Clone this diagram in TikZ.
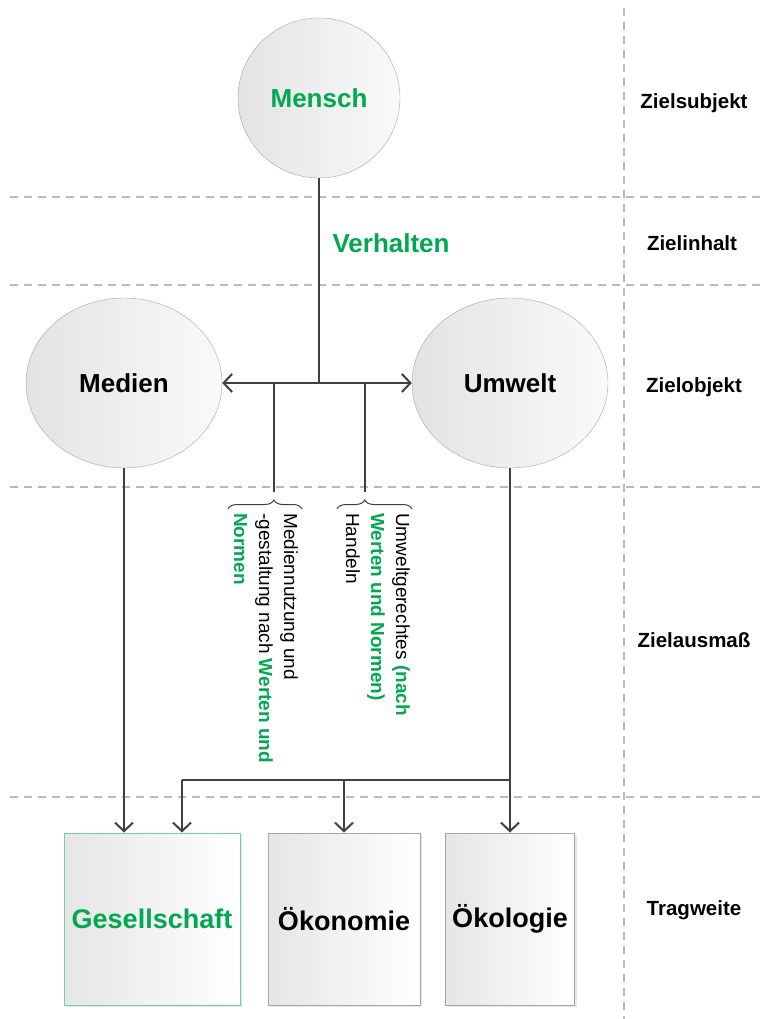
\documentclass[tikz,border=0pt]{standalone}
\usepackage{fontspec}
\setmainfont{Liberation Sans}
\usetikzlibrary{shapes.geometric,arrows.meta,decorations.pathreplacing,shadows}
\definecolor{zielgruen}{RGB}{0,168,80}
\definecolor{linie}{RGB}{64,64,64}

\begin{document}
\begin{tikzpicture}[x=1pt,y=-1pt,
	trenn/.style={gray!55,line width=1.2pt,dash pattern=on 8pt off 6pt},
	kreis/.style={ellipse,draw=gray!70,left color=gray!22,right color=gray!4,inner sep=0pt,font=\fontsize{26}{30}\selectfont\bfseries},
	kasten/.style={rectangle,draw=gray!70,line width=1pt,left color=gray!20,right color=white,minimum height=172pt,inner sep=0pt,drop shadow={opacity=0.2,shadow xshift=2pt,shadow yshift=-2pt},font=\fontsize{27}{30}\selectfont\bfseries},
	ebene/.style={font=\fontsize{20.5}{24}\selectfont\bfseries},
	pfeil/.style={linie,line width=2pt,-{Straight Barb[length=8.5pt,width=18pt]}},
	verb/.style={linie,line width=2pt},
	klammer/.style={linie,line width=1pt,decorate},
	dreh/.style={rotate=-90,anchor=north west,align=left,inner sep=0pt,font=\fontsize{19}{25}\selectfont}
]
	\useasboundingbox (0,0) rectangle (761,1019);
	
	% Ebenen
	\draw[trenn] (624,8) -- (624,1019);
	\foreach \y in {197,285,487,797}{
		\draw[trenn] (10,\y) -- (761,\y);
	}
	\node[ebene] (zsub) at (694,103) {Zielsubjekt};
	\node[ebene] (zinh) at (692,243) {Zielinhalt};
	\node[ebene] (zobj) at (694,387) {Zielobjekt};
	\node[ebene] (zaus) at (694,640) {Zielausmaß};
	\node[ebene] (trag) at (694,910) {Tragweite};
	
	% Kreise
	\node[kreis,minimum width=162pt,minimum height=160pt,text=zielgruen] (mensch) at (319,98) {Mensch};
	\node[kreis,minimum width=196pt,minimum height=170pt] (medien) at (124,383) {Medien};
	\node[kreis,minimum width=196pt,minimum height=170pt] (umwelt) at (510,383) {Umwelt};
	\node[anchor=west,text=zielgruen,font=\fontsize{26}{30}\selectfont\bfseries] (verhalten) at (329,243) {Verhalten};
	
	% Kaesten
	\node[kasten,draw=zielgruen!55,minimum width=176pt,text=zielgruen] (ges) at (152,919) {Gesellschaft};
	\node[kasten,minimum width=152pt] (oekon) at (344,919) {Ökonomie};
	\node[kasten,minimum width=129pt] (oekol) at (510,919) {Ökologie};
	
	% Verbindungen
	\coordinate (mitte) at (319,383);
	\coordinate (astA) at (274,383);
	\coordinate (astB) at (365,383);
	\coordinate (spitzeA) at (274,492);
	\coordinate (spitzeB) at (365,492);
	\coordinate (teil) at (510,780);
	\coordinate (gesein) at (182,780);
	\coordinate (oekonein) at (344,780);
	\draw[verb] (mensch) -- (mitte);
	\draw[pfeil] (mitte) -- (medien);
	\draw[pfeil] (mitte) -- (umwelt);
	\draw[verb] (astA) -- (spitzeA);
	\draw[verb] (astB) -- (spitzeB);
	\draw[pfeil] (medien) -- (medien |- ges.north);
	\draw[verb] (umwelt) -- (teil) -- (gesein);
	\draw[pfeil] (teil) -- (oekol);
	\draw[pfeil] (gesein) -- (gesein |- ges.north);
	\draw[pfeil] (oekonein) -- (oekon);
	
	% Klammern
	\draw[klammer,decoration={brace,amplitude=9pt,aspect=0.62}] (228,509) -- (302,509);
	\draw[klammer,decoration={brace,amplitude=9pt,aspect=0.37}] (337,509) -- (412,509);
	\node[dreh] (medtext) at (298,513) {Mediennutzung und\\-gestaltung nach \textcolor{zielgruen}{\bfseries Werten und}\\\textcolor{zielgruen}{\bfseries Normen}};
	\node[dreh] (umwtext) at (410,513) {Umweltgerechtes \textcolor{zielgruen}{\bfseries (nach}\\\textcolor{zielgruen}{\bfseries Werten und Normen)}\\Handeln};
\end{tikzpicture}
\end{document}
